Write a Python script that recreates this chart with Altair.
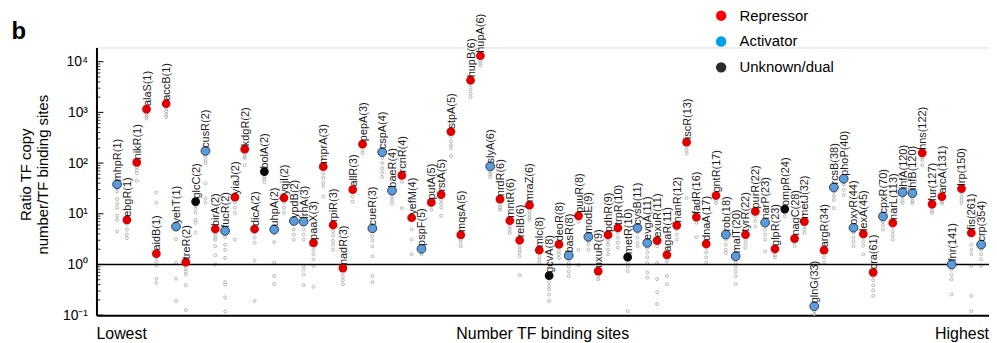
import altair as alt
import pandas as pd

# ---------------- data ----------------
labels = ["mhpR(1)", "ebgR(1)", "nikR(1)", "alaS(1)", "aidB(1)", "accB(1)", "yehT(1)", "treR(2)",
          "glcC(2)", "cusR(2)", "birA(2)", "fucR(2)", "yiaJ(2)", "kdgR(2)", "dicA(2)", "bolA(2)",
          "uhpA(2)", "yqjI(2)", "ypdB(2)", "lrhA(3)", "paaX(3)", "mprA(3)", "rpiR(3)", "nadR(3)",
          "allR(3)", "pepA(3)", "cueR(3)", "cspA(4)", "baeR(4)", "rcnR(4)", "yefM(4)", "pspF(5)",
          "putA(5)", "rstA(5)", "stpA(5)", "mqsA(5)", "hupB(6)", "hupA(6)", "slyA(6)", "nrdR(6)",
          "mntR(6)", "relB(6)", "mraZ(6)", "mlc(8)", "gcvA(8)", "deoR(8)", "basR(8)", "puuR(8)",
          "modE(9)", "uxuR(9)", "pdhR(9)", "trpR(10)", "metR(10)", "cysB(11)", "evgA(11)", "exuR(11)",
          "agaR(11)", "nanR(12)", "iscR(13)", "fadR(16)", "dnaA(17)", "gntR(17)", "rob(18)", "malT(20)",
          "tyrR(22)", "purR(22)", "narP(23)", "glpR(23)", "ompR(24)", "nagC(28)", "metJ(32)", "glnG(33)",
          "argR(34)", "rcsB(38)", "phoP(40)", "oxyR(44)", "lexA(45)", "cra(61)", "cpxR(70)", "narL(113)",
          "ihfA(120)", "ihfB(120)", "hns(122)", "fur(127)", "arcA(131)", "fnr(141)", "lrp(150)",
          "fis(261)", "crp(354)"]

types = list("ARRRRRARUARARRRUARAARRRRRRAAARRARRRRRRARRRRRURARARRRUAARRRRRRRAARRARURRARAAARRARAARRRARRA")

ratio = [38, 7.6, 103, 1160, 1.64, 1480, 5.6, 1.11, 17.4, 174,
         5.0, 4.6, 21.2, 188, 5.0, 68, 4.9, 20.6, 7.2, 7.0,
         2.66, 85, 6.0, 0.85, 30, 236, 5.15, 164, 28.6, 57,
         8.35, 2.03, 16.7, 23.9, 419, 3.82, 4300, 13100, 86, 19.4,
         7.3, 3.0, 14.8, 1.91, 0.6, 2.5, 1.5, 9.1, 3.5, 0.74,
         3.82, 5.25, 1.39, 5.25, 2.66, 2.96, 1.55, 5.9, 258, 8.6,
         2.55, 22.9, 3.88, 1.45, 3.88, 11.1, 6.7, 2.03, 12.4, 3.24,
         7.0, 0.15, 1.91, 33, 49, 5.3, 4.0, 0.7, 8.85, 6.6,
         26.6, 25.5, 159, 15.5, 21.8, 1.0, 31.3, 4.19, 2.47]

# individual measurements (log10 of ratio), grey circles
gray_log10 = [
    [1.51, 1.44, 1.29, 1.20, 1.12, 0.96, 0.88, 0.65],
    [0.84, 0.80, 0.69, 0.59, 0.52],
    [1.92, 1.86, 1.80, 1.65],
    [3.00, 2.96, 2.92, 2.88],
    [1.42, 1.22, 0.14, 0.06, -0.02, -0.28, -0.36],
    [3.08, 3.02, 2.96, 2.91],
    [0.69, 0.50, 0.03, -0.28, -0.72],
    [-0.02, -0.08, -0.14, -0.20, -0.41, -0.90],
    [1.16, 1.10, 1.02, 0.88, 0.82, 0.63],
    [2.14, 2.06, 2.00, 1.60, 1.30, 1.22],
    [0.59, 0.53, 0.49, 0.36, 0.18, 0.00],
    [0.54, 0.39, 0.29, 0.13, -0.35, -0.40, -0.65, -0.93],
    [1.22, 1.12, 1.02, 0.49],
    [2.20, 2.14, 2.10, 1.96],
    [0.63, 0.53, 0.43, 0.08, -0.72],
    [1.73, 1.69, 1.63],
    [0.61, 0.44, 0.03, -0.23, -0.39],
    [1.22, 1.12, 1.02],
    [0.69, 0.59, 0.49],
    [0.69, 0.59, 0.49, -0.03, -0.10, -0.20, -0.41],
    [0.29, 0.20, 0.10, -0.03, -0.44],
    [1.80, 1.71, 1.61, 1.54, 1.34],
    [0.65, 0.57, 0.47, 0.39, 0.29],
    [-0.16, -0.24, -0.31, -0.39],
    [1.34, 1.24],
    [2.25, 2.19],
    [0.56, 0.47, 0.36, 0.16, -0.23, -0.35],
    [2.10, 2.00, 1.90, 1.82, 1.73],
    [1.34, 1.27, 1.21],
    [1.63, 1.11],
    [0.69, 0.49, 0.20],
    [0.25, 0.20],
    [1.16, 1.08],
    [1.27, 1.20, 1.12, 0.96],
    [2.52, 2.43, 2.35, 2.29, 2.14],
    [0.49, 0.43, 0.36],
    [3.53, 3.45, 3.37, 3.30],
    [4.02, 3.98, 3.92],
    [1.83, 1.78, 1.73],
    [1.18, 1.12, 1.08],
    [0.75, 0.69, 0.62],
    [0.36, 0.29, 0.24, 0.16, -0.21],
    [1.05, 0.98, 0.92, 0.88],
    [0.16, 0.10, 0.03],
    [-0.35, -0.43, -0.49, -0.59, -0.72],
    [0.26, 0.20, 0.13],
    [0.03, -0.04, -0.14, -0.23],
    [0.84, 0.29, -0.01],
    [0.46, 0.39, 0.29],
    [-0.23, -0.29],
    [0.46, 0.39, 0.29, 0.20],
    [0.63, 0.53, 0.43, 0.33],
    [0.03, -0.04, -0.13, -0.92],
    [0.63, 0.53, 0.43, 0.36],
    [0.33, 0.24, 0.14, 0.03, -0.16, -0.26],
    [0.36, 0.03, -0.29, -0.55, -0.78],
    [0.06, -0.23, -0.39],
    [0.69, 0.59, 0.49],
    [2.32, 2.25, 2.19, 1.31],
    [0.82, 0.54],
    [0.33, 0.24, 0.14, 0.04],
    [1.27, 1.21],
    [0.49, 0.39, 0.29, 0.23],
    [0.03, -0.06, -0.14, -0.23, -0.39],
    [0.49, 0.41, 0.33],
    [0.95, 0.86, 0.75],
    [0.69, 0.59, 0.49, 0.26],
    [0.24, 0.18, 0.14],
    [1.02, 0.95],
    [0.43, 0.36],
    [0.75, 0.69, 0.62],
    [-0.92, -0.98],
    [0.24, 0.14, 0.04],
    [1.44, 1.35, 1.27, 1.11],
    [1.57, 1.47, 1.37],
    [0.63, 0.53, 0.45, 0.36],
    [0.53, 0.45, 0.37, 0.20],
    [-0.23, -0.31, -0.41, -0.51, -0.62],
    [0.85, 0.78, 0.69],
    [0.73, 0.65, 0.57, 0.49],
    [1.34, 1.27, 1.21],
    [1.31, 1.25, 1.21],
    [2.12, 2.06, 1.96],
    [1.12, 1.06, 1.02],
    [1.24, 1.21],
    [-0.10, -0.20, -0.29, -0.59],
    [1.41, 1.33, 1.27, 1.21],
    [0.39, 0.29, 0.20, -0.03, -0.62, -0.92],
    [0.29, 0.20, 0.10, -0.03],
]

type_names = {"R": "Repressor", "A": "Activator", "U": "Unknown/dual"}
legend_order = ["Repressor", "Activator", "Unknown/dual"]

major_ticks = [0.1, 1, 10, 100, 1000, 10000]
minor_mult = [2, 3, 4, 5, 6, 7, 8, 9]
minor_ticks = [m * d for d in major_ticks[:-1] for m in minor_mult]

# ---------------- frames ----------------
n = len(labels)
main = pd.DataFrame({
    "rank": list(range(1, n + 1)),
    "label": labels,
    "type": [type_names[t] for t in types],
    "ratio": ratio,
})
grows = []
for i, vals in enumerate(gray_log10):
    for e in vals:
        grows.append({"rank": i + 1, "ratio": 10 ** e})
gray = pd.DataFrame(grows)

FONT = "Liberation Sans"
W, H = 898, 269.3

xs = alt.X("rank:Q", scale=alt.Scale(domain=[-1.1, 89.8], nice=False, zero=False),
           axis=alt.Axis(title=None, labels=False, ticks=False, grid=False,
                         domainColor="black", domainWidth=2))
ys = alt.Y("ratio:Q", scale=alt.Scale(type="log", domain=[0.1, 19055], nice=False),
           axis=alt.Axis(title=None, values=major_ticks, ticks=False, grid=False,
                         domainColor="black", domainWidth=2, labelFontSize=14,
                         labelFont=FONT, labelColor="black", labelPadding=9,
                         labelExpr="datum.value > 5000 ? '10⁴' : datum.value > 500 ? '10³' : "
                                   "datum.value > 50 ? '10²' : datum.value > 5 ? '10¹' : "
                                   "datum.value > 0.5 ? '10⁰' : '10⁻¹'"))

hline = alt.Chart(pd.DataFrame({"ratio": [1]})).mark_rule(
    color="black", strokeWidth=1.6).encode(y=alt.Y("ratio:Q"))

tick_major = alt.Chart(pd.DataFrame({"ratio": major_ticks})).mark_rule(
    color="black", strokeWidth=1).encode(y="ratio:Q", x=alt.value(0), x2=alt.value(7))
tick_minor = alt.Chart(pd.DataFrame({"ratio": minor_ticks})).mark_rule(
    color="black", strokeWidth=0.8).encode(y="ratio:Q", x=alt.value(0), x2=alt.value(4))

gray_pts = alt.Chart(gray).mark_point(
    shape="circle", filled=False, size=9, color="#a8a8a8", strokeWidth=0.8, opacity=1
).encode(x=xs, y=ys)

text_lbl = alt.Chart(main).mark_text(
    angle=270, align="left", baseline="middle", dx=3, dy=1,
    fontSize=11, font=FONT, color="#1a1a1a"
).encode(x="rank:Q", y="ratio:Q", text="label:N")

main_pts = alt.Chart(main).mark_point(
    shape="circle", filled=True, size=78, opacity=1, stroke="#24304a"
).encode(
    x="rank:Q", y="ratio:Q",
    fill=alt.Fill("type:N", scale=alt.Scale(domain=legend_order,
                                             range=["#e10000", "#5a9cdc", "#0a0a0a"]),
                  legend=None),
    strokeWidth=alt.condition("datum.type == 'Activator'", alt.value(0.9), alt.value(0)),
)

legend_layer = alt.Chart(main).mark_point(
    shape="circle", filled=True, opacity=0, size=95
).encode(
    x="rank:Q", y="ratio:Q",
    color=alt.Color("type:N", scale=alt.Scale(domain=legend_order,
                                              range=["#ff0000", "#00a0e9", "#2b2b2b"]),
                    legend=alt.Legend(title=None, orient="none", legendX=621, legendY=-39.5,
                                      symbolType="circle", symbolSize=110, symbolOpacity=1,
                                      symbolStrokeWidth=0, labelFontSize=15, labelFont=FONT,
                                      labelColor="black", labelOffset=11, rowPadding=10,
                                      padding=0)),
)

def ann(text, x, y, align="left", size=16, weight="normal", angle=0, baseline="alphabetic"):
    return alt.Chart(pd.DataFrame({"t": [text]})).mark_text(
        align=align, baseline=baseline, fontSize=size, font=FONT, fontWeight=weight,
        angle=angle, color="black"
    ).encode(x=alt.value(x), y=alt.value(y), text="t:N")

anns = [
    ann("Lowest", 0, 292.8),
    ann("Number TF binding sites", W / 2, 292.8, align="center"),
    ann("Highest", W, 292.8, align="right"),
    ann("Ratio TF copy", -70.5, 128, align="center", size=15, angle=270, baseline="middle"),
    ann("number/TF binding sites", -53.5, 128, align="center", size=15, angle=270, baseline="middle"),
    ann("b", -85.5, -8.7, size=24, weight="bold"),
]

chart = alt.layer(
    gray_pts, hline, tick_minor, tick_major, legend_layer, main_pts, text_lbl, *anns
).properties(
    width=W, height=H,
    autosize=alt.AutoSizeParams(type="none"),
    padding={"left": 89, "top": 38.7, "right": 0, "bottom": 27},
).configure_view(strokeWidth=0).configure(font=FONT, background="white")

chart.save("out.html", embed_options={"renderer": "svg", "actions": False})
